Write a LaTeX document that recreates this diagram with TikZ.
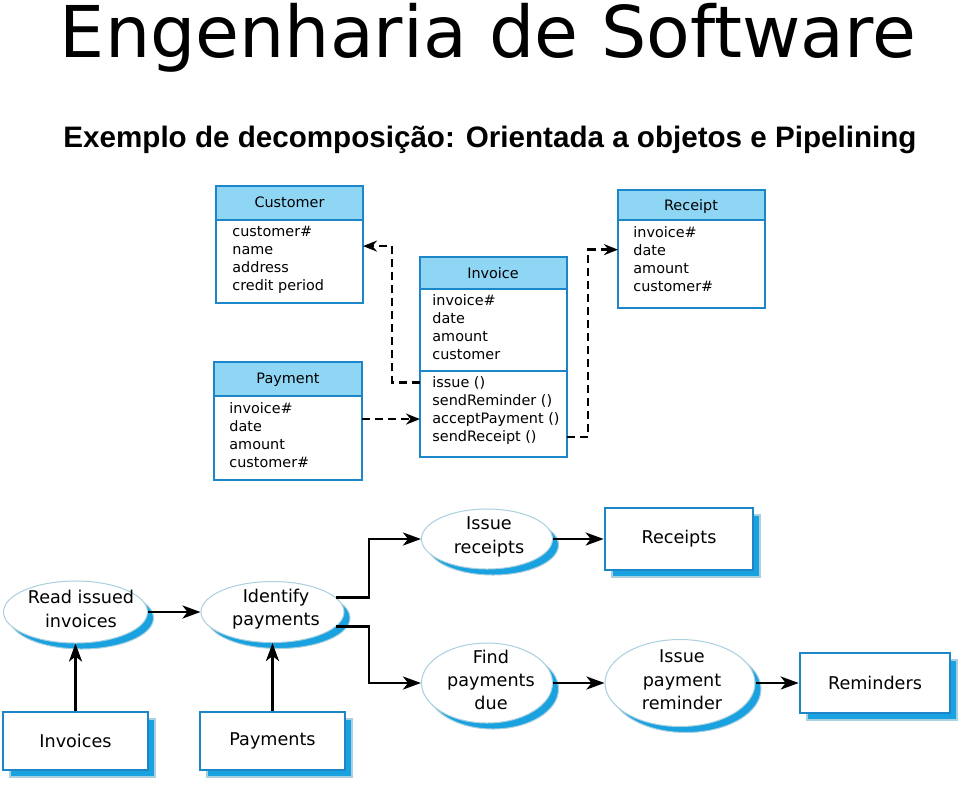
\documentclass[tikz,border=0pt]{standalone}
\usepackage{fontspec}
\setmainfont{Liberation Sans}
\newfontfamily\diafont{DejaVu Sans}
\usetikzlibrary{arrows.meta,shapes.geometric,shadows}

\definecolor{umlblue}{RGB}{28,134,200}
\definecolor{headfill}{RGB}{143,214,245}
\definecolor{shadowblue}{RGB}{26,161,224}
\definecolor{rimblue}{RGB}{168,208,222}

\tikzset{
  classbox/.style={draw=umlblue, line width=1.2pt, fill=white, anchor=north west, inner sep=0pt, outer sep=0pt},
  classhead/.style={draw=umlblue, line width=1.2pt, fill=headfill},
  classname/.style={font=\diafont\fontsize{7.2}{9}\selectfont, anchor=base, inner sep=0pt},
  attr/.style={font=\diafont\fontsize{7.2}{9}\selectfont, anchor=base west, inner sep=0pt},
  dep/.style={dash pattern=on 4pt off 2.5pt, line width=1.2pt, -{Stealth[length=7pt,width=5.5pt]}},
  process/.style={ellipse, draw=rimblue, line width=0.5pt, fill=white, inner sep=0pt,
    drop shadow={shadow xshift=3pt, shadow yshift=-3pt, fill=shadowblue, draw=rimblue, opacity=1}},
  proclabel/.style={align=center, inner sep=0pt, font=\diafont\fontsize{8.8}{11.7}\selectfont},
  store/.style={rectangle, draw=umlblue, line width=1.3pt, fill=white, inner sep=0pt,
    font=\diafont\fontsize{8.8}{11.7}\selectfont,
    drop shadow={shadow xshift=3.5pt, shadow yshift=-3.5pt, fill=shadowblue, draw=rimblue, opacity=1}},
  flow/.style={line width=1.4pt, -{Stealth[length=9pt,width=6.5pt,inset=2.5pt]}}
}

\begin{document}
\begin{tikzpicture}[x=0.5pt, y=-0.5pt]
\useasboundingbox (0,0) rectangle (960,784);

% Titles
\node[anchor=base, inner sep=0pt] (title) at (488,57) {\diafont\fontsize{35.7}{40}\selectfont Engenharia de Software};
\node[anchor=base] (subtitle) at (490,147) {\fontsize{14.8}{18}\selectfont\bfseries Exemplo de decomposição: Orientada a objetos e Pipelining};

% Customer
\node[classbox, minimum width=73.5pt, minimum height=58.5pt] (customer) at (216,186) {};
\draw[classhead] (customer.north west) rectangle ++(147,34);
\node[classname] (customer-name) at (289.5,207) {Customer};
\foreach \t [count=\i] in {customer\#, name, address, credit period}
  \node[attr] (customer-\i) at (232,218+18*\i) {\t};

% Payment
\node[classbox, minimum width=74pt, minimum height=59pt] (payment) at (214,362) {};
\draw[classhead] (payment.north west) rectangle ++(148,34);
\node[classname] (payment-name) at (288,383) {Payment};
\foreach \t [count=\i] in {invoice\#, date, amount, customer\#}
  \node[attr] (payment-\i) at (229,395+18*\i) {\t};

% Invoice
\node[classbox, minimum width=73.5pt, minimum height=100pt] (invoice) at (420,257) {};
\draw[classhead] (invoice.north west) rectangle ++(147,32);
\draw[umlblue, line width=1.2pt] (420,371) -- (567,371);
\node[classname] (invoice-name) at (493,278) {Invoice};
\foreach \t [count=\i] in {invoice\#, date, amount, customer}
  \node[attr] (invoice-\i) at (432,287+18*\i) {\t};
\foreach \t [count=\i] in {issue (), sendReminder (), acceptPayment (), sendReceipt ()}
  \node[attr] (invoice-m\i) at (432,369+18*\i) {\t};

% Receipt
\node[classbox, minimum width=73.5pt, minimum height=59pt] (receipt) at (618,190) {};
\draw[classhead] (receipt.north west) rectangle ++(147,30);
\node[classname] (receipt-name) at (691,210) {Receipt};
\foreach \t [count=\i] in {invoice\#, date, amount, customer\#}
  \node[attr] (receipt-\i) at (633,219+18*\i) {\t};

% Dependencies
\draw[dep] (invoice.west |- invoice-m1) -- ++(-28,0) |- ([yshift=2pt]customer.east |- customer-2);
\draw[dep] (payment.east |- invoice-m3) -- (invoice.west |- invoice-m3);
\draw[dep] (invoice.east |- invoice-m4) -- ++(21,0) |- (receipt.west |- receipt-2);

% Pipeline: processes
\node[process, minimum width=72pt, minimum height=31pt] (read) at (75.5,612) {};
\node[proclabel] (read-text) at (81,609) {Read issued\\invoices};
\node[process, minimum width=71.5pt, minimum height=30.5pt] (identify) at (272.5,612) {};
\node[proclabel] (identify-text) at (276,609) {Identify\\payments};
\node[process, minimum width=65.5pt, minimum height=30pt] (issuercpt) at (487,539) {};
\node[proclabel] (issuercpt-text) at (489,537) {Issue\\receipts};
\node[process, minimum width=65.5pt, minimum height=40pt] (findpay) at (487,683) {};
\node[proclabel] (findpay-text) at (491,680) {Find\\payments\\due};
\node[process, minimum width=75pt, minimum height=43.5pt] (issuerem) at (680,683) {};
\node[proclabel] (issuerem-text) at (682,680) {Issue\\payment\\reminder};

% Pipeline: stores
\node[store, minimum width=72.5pt, minimum height=29pt] (invoices) at (75.5,741) {Invoices};
\node[store, minimum width=72.5pt, minimum height=29pt] (payments) at (272.5,741) {Payments};
\node[store, minimum width=74pt, minimum height=31pt] (receipts) at (679,539) {Receipts};
\node[store, minimum width=75pt, minimum height=30pt] (reminders) at (875,683) {Reminders};

% Flows
\draw[flow] (invoices.north) -- (read.south);
\draw[flow] (payments.north) -- (identify.south);
\draw[flow] (read) -- (identify);
\draw[flow] (identify.13) -- ++(33,0) |- (issuercpt.west);
\draw[flow] (identify.-13) -- ++(33,0) |- (findpay.west);
\draw[flow] (issuercpt) -- (receipts);
\draw[flow] (findpay) -- (issuerem);
\draw[flow] (issuerem) -- (reminders);
\end{tikzpicture}
\end{document}
